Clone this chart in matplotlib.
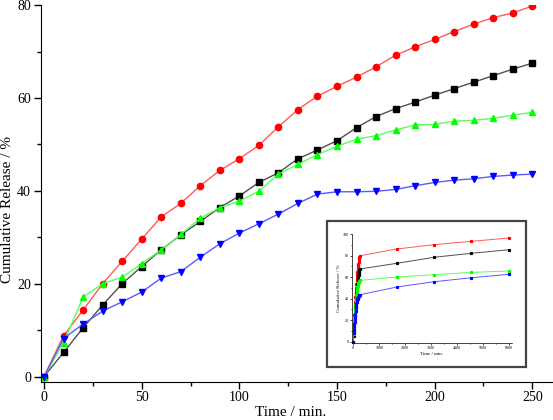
import matplotlib
matplotlib.use("Agg")
import matplotlib.pyplot as plt
from matplotlib.patches import Rectangle
from matplotlib.ticker import MultipleLocator

# 释放时间（min）与四组累计释放量（%）
time_min = [0, 10, 20, 30, 40, 50, 60, 70, 80, 90, 100, 110, 120,
            130, 140, 150, 160, 170, 180, 190, 200, 210, 220, 230, 240, 250]
red_rel = [0, 8.8, 14.3, 20.0, 24.8, 29.6, 34.4, 37.3, 41.1, 44.4, 46.9, 49.8, 53.8,
           57.5, 60.4, 62.5, 64.5, 66.7, 69.2, 71.0, 72.6, 74.3, 75.9, 77.3, 78.3, 79.8]
black_rel = [0, 5.2, 10.5, 15.4, 20.0, 23.7, 27.3, 30.5, 33.4, 36.4, 38.9, 41.8, 43.9,
             46.9, 48.8, 50.8, 53.6, 56.0, 57.7, 59.1, 60.6, 62.0, 63.4, 64.8, 66.2, 67.5]
green_rel = [0, 7.3, 17.1, 20.0, 21.4, 24.3, 27.3, 30.6, 34.1, 36.4, 37.8, 39.9, 43.6,
             45.7, 47.8, 49.6, 51.1, 51.9, 53.1, 54.2, 54.3, 55.0, 55.2, 55.6, 56.3, 56.9]
blue_rel = [0, 8.2, 11.3, 14.1, 16.1, 18.2, 21.2, 22.6, 25.7, 28.6, 30.9, 32.9, 35.0,
            37.3, 39.3, 39.8, 39.8, 39.9, 40.3, 41.1, 41.8, 42.3, 42.6, 43.1, 43.4, 43.6]

# 插图中的长时间数据点
long_time = [1680, 3120, 4560, 6000]
red_long = [86.1, 90.1, 93.2, 96.3]
black_long = [72.8, 78.4, 82.1, 85.4]
green_long = [60.1, 62.2, 64.4, 65.6]
blue_long = [50.8, 55.7, 59.4, 62.6]

plt.rcParams["font.family"] = ["Liberation Serif", "DejaVu Serif"]

series = [
    (red_rel, red_long, "#ff0000", "#ff5a5a", "o"),
    (black_rel, black_long, "#000000", "#505050", "s"),
    (green_rel, green_long, "#00ff00", "#5aff5a", "^"),
    (blue_rel, blue_long, "#0000ff", "#5a5aff", "v"),
]

fig = plt.figure(figsize=(5.53, 4.20), dpi=100)
ax = fig.add_axes([0.0736, 0.0912, 0.9264, 0.8967])

for vals, _, mc, lc, mk in series:
    ax.plot(time_min, vals, color=lc, linewidth=1.0, marker=mk,
            markersize=4.5, markerfacecolor=mc, markeredgecolor=mc, zorder=2)

ax.set_xlim(-1.7, 260.6)
ax.set_ylim(-1.1, 80)
ax.spines["top"].set_visible(False)
ax.spines["right"].set_visible(False)
ax.xaxis.set_major_locator(MultipleLocator(50))
ax.xaxis.set_minor_locator(MultipleLocator(25))
ax.yaxis.set_major_locator(MultipleLocator(20))
ax.yaxis.set_minor_locator(MultipleLocator(10))
ax.tick_params(which="major", direction="out", length=5, width=1, labelsize=10, pad=2)
ax.tick_params(which="minor", direction="out", length=3, width=1)
ax.set_xlabel("Time / min.", fontsize=11)
ax.set_ylabel("Cumulative Release / %", fontsize=11)
ax.xaxis.set_label_coords(0.487, -0.083)
ax.yaxis.set_label_coords(-0.064, 0.456)
ax.xaxis.label.set_va("center")
ax.yaxis.label.set_va("center")

# 插图外框
fig.patches.append(Rectangle((326.7 / 553, 1 - 366.7 / 420), 199.3 / 553, 146.0 / 420,
                             transform=fig.transFigure, fill=True, facecolor="white",
                             edgecolor="#444444", linewidth=1.6, zorder=3))

ins = fig.add_axes([0.6365, 0.1833, 0.2893, 0.2595], zorder=4)
ins.patch.set_alpha(0)
for vals, lvals, mc, lc, mk in series:
    ins.plot(time_min + long_time, vals + lvals, color=lc, linewidth=0.7,
             marker="s", markersize=1.3, markerfacecolor=mc, markeredgecolor=mc)

ins.set_xlim(-50, 6127)
ins.set_ylim(-1.2, 100)
ins.spines["top"].set_visible(False)
ins.spines["right"].set_visible(False)
for s in ["left", "bottom"]:
    ins.spines[s].set_linewidth(0.5)
ins.xaxis.set_major_locator(MultipleLocator(1000))
ins.xaxis.set_minor_locator(MultipleLocator(500))
ins.yaxis.set_major_locator(MultipleLocator(20))
ins.yaxis.set_minor_locator(MultipleLocator(10))
ins.tick_params(which="major", direction="out", length=1.5, width=0.5, labelsize=3, pad=1)
ins.tick_params(which="minor", direction="out", length=1, width=0.5)
ins.set_xlabel("Time / min.", fontsize=3.5, labelpad=1)
ins.set_ylabel("Cumulative Release / %", fontsize=3.5, labelpad=1)

fig.savefig("out.png", dpi=100)
